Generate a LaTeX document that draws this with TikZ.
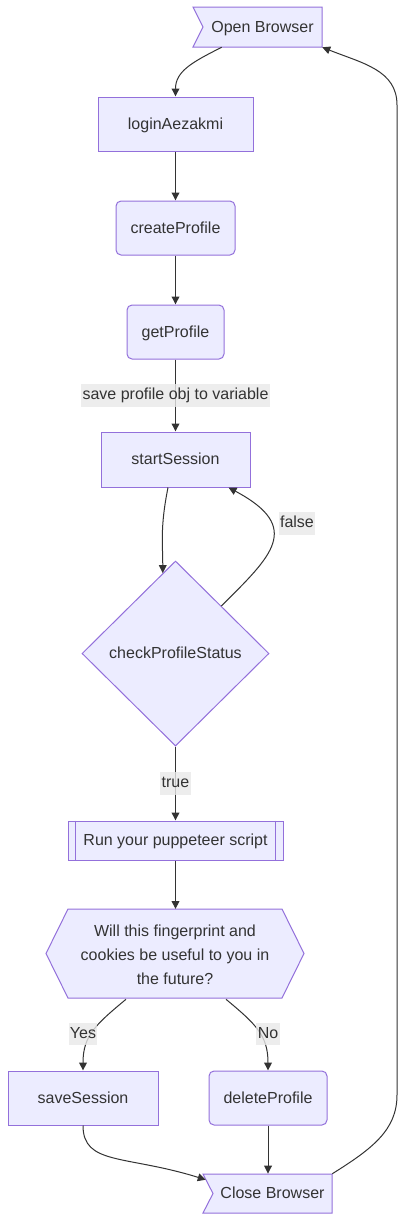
\documentclass[tikz,border=0pt]{standalone}
\usepackage{fontspec}
\setmainfont{Liberation Sans}
\usetikzlibrary{shapes.geometric}
\usetikzlibrary{arrows.meta}
\usetikzlibrary{calc}

\begin{document}
\begin{tikzpicture}[x=0.75pt,y=0.75pt,yscale=-1,xscale=1,
  every node/.style={font=\fontsize{12}{14.4}\selectfont, text={rgb, 255:red, 51; green, 51; blue, 51 }},
  oneline/.style={text height=10pt, text depth=2pt},
  outline/.style={draw={rgb, 255:red, 147; green, 112; blue, 219 }, fill={rgb, 255:red, 236; green, 236; blue, 255 }, line width=0.75pt},
  proc/.style={outline, oneline, inner sep=0pt, minimum height=40.5pt},
  procr/.style={proc, rounded corners=3.75pt},
  shapetext/.style={inner sep=0pt},
  edge/.style={color={rgb, 255:red, 51; green, 51; blue, 51 }, line width=0.75pt, -{Triangle[length=6pt,width=5.8pt]}},
  lbl/.style={fill={rgb, 255:red, 232; green, 232; blue, 232 }, fill opacity=0.8, text opacity=1, inner xsep=1pt, inner ysep=2.9pt, text height=8.6pt, text depth=2.6pt}]
\useasboundingbox (0,0) rectangle (406,1222); %set diagram to 406 x 1222

%Shape: Flag [open]
\draw [outline] (193,7) -- (322,7) -- (322,47) -- (193,47) -- (203,27) -- cycle ;
%Shape: Hexagon [hex]
\draw [outline] (46,953.5) -- (68,909) -- (282,909) -- (304,953.5) -- (282,998) -- (68,998) -- cycle ;
%Shape: Flag [close]
\draw [outline] (203,1174) -- (332,1174) -- (332,1213) -- (203,1213) -- (213,1193.5) -- cycle ;

% Text Node
\node [shapetext, oneline, minimum width=89.25pt, minimum height=30pt] (open) at (262.5,27) {Open Browser};
\node [proc, minimum width=116.25pt] (login) at (175.5,124) {loginAezakmi};
\node [procr, minimum width=89.25pt] (create) at (175.5,228) {createProfile};
\node [procr, minimum width=72.75pt] (get) at (175.5,332) {getProfile};
\node [proc, minimum width=111.75pt, minimum height=41.25pt] (start) at (175.5,459.5) {startSession};
\node [outline, oneline, shape=diamond, aspect=1, inner sep=0pt, minimum width=140.25pt, minimum height=138.75pt] (check) at (175.5,653.5) {checkProfileStatus};
\node [proc, minimum width=161.25pt, minimum height=29.25pt] (run) at (175.5,840.5) {Run your puppeteer script};
\node [shapetext, minimum width=193.5pt, minimum height=66.75pt, align=center, font=\fontsize{12}{18}\selectfont] (hex) at (175,954.5) {Will this fingerprint and\\cookies be useful to you in\\the future?};
\node [proc, minimum width=112.5pt] (save) at (83,1098) {saveSession};
\node [procr, minimum width=88.5pt] (del) at (268,1098) {deleteProfile};
\node [shapetext, oneline, minimum width=89.25pt, minimum height=29.25pt] (close) at (272.5,1193.5) {Close Browser};

%Straight Lines [run inner bars]
\draw [draw={rgb, 255:red, 147; green, 112; blue, 219 }, line width=0.75pt] ($(run.north west)+(8,0)$) -- ($(run.south west)+(8,0)$) ;
\draw [draw={rgb, 255:red, 147; green, 112; blue, 219 }, line width=0.75pt] ($(run.north east)+(-8,0)$) -- ($(run.south east)+(-8,0)$) ;

%Curve Lines
\draw [edge] ($(open.south west)+(19,0)$) .. controls +(-30,15) and +(0,-25) .. (login.north) ;
%Straight Lines
\draw [edge] (login.south) -- (create.north) ;
\draw [edge] (create.south) -- (get.north) ;
\draw [edge] (get.south) -- (start.north) node [lbl, midway] (lblsave) {save profile obj to variable} ;
%Curve Lines
\draw [edge] ($(start.south)+(-7.5,0)$) .. controls +(-8,40) and +(0,-30) .. (check.99) ;
\draw [edge] (check.46) .. controls +(50,-50) and +(75,40) .. ($(start.south)+(53,0)$) ;
%Straight Lines
\draw [edge] (check.south) -- (run.north) node [lbl, midway] (lbltrue) {true} ;
\draw [edge] (run.south) -- (run.south |- 0,909) ;
%Curve Lines
\draw [edge] ($(hex.south)+(-49,0)$) .. controls +(-30,25) and +(0,-35) .. (save.north) ;
\draw [edge] ($(hex.south)+(51,0)$) .. controls +(30,25) and +(0,-35) .. (del.north) ;
\draw [edge] (save.south) .. controls +(0,40) and +(-80,-25) .. ($(close.north west)+(-7,6)$) ;
%Straight Lines
\draw [edge] (del.south) -- (del.south |- close.north) ;
%Curve Lines
\coordinate (rbot) at (397,1095) ;
\coordinate (rtop) at (397,105) ;
\draw [edge] (close.north east) .. controls +(40,-25) and +(0,35) .. (rbot) -- (rtop) .. controls +(0,-35) and +(40,16) .. (open.south east) ;

% Text Node
\node [lbl] (lblfalse) at (297,523.5) {false};
% Text Node
\node [lbl] (lblyes) at (83,1034) {Yes};
% Text Node
\node [lbl] (lblno) at (268,1034) {No};

\end{tikzpicture}
\end{document}
